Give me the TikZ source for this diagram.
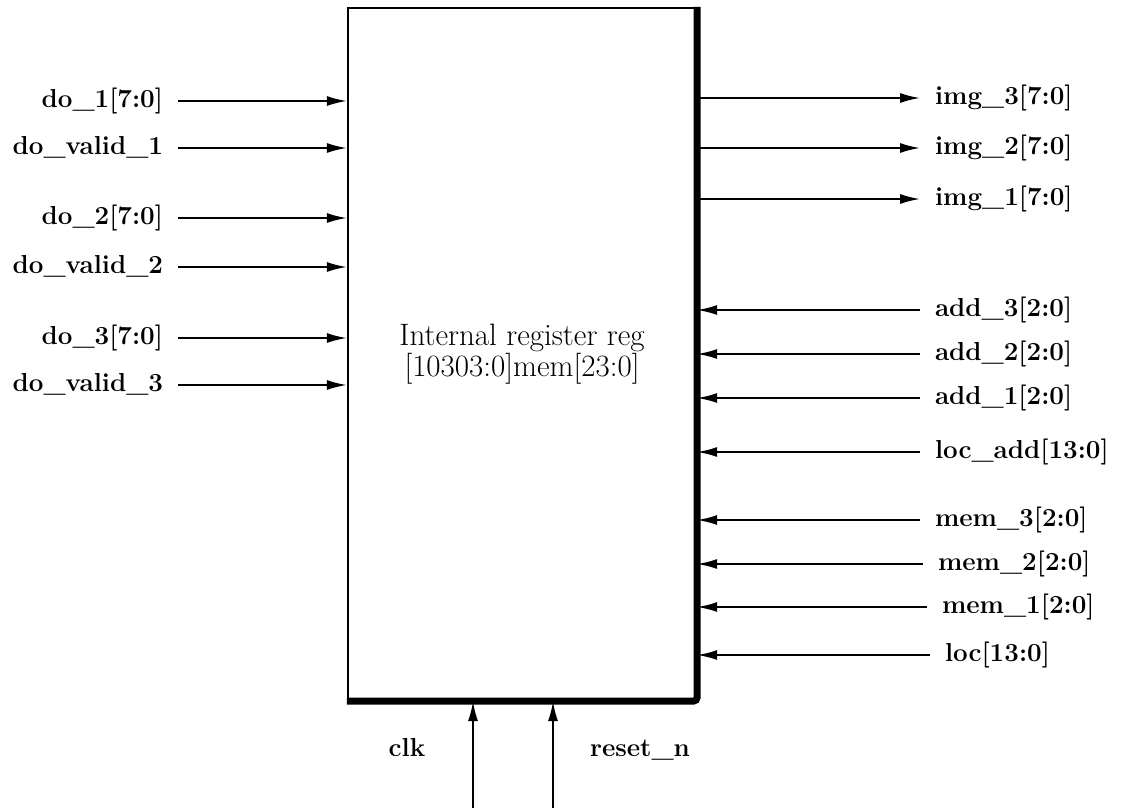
\documentclass[tikz,border=0pt]{standalone}
\usetikzlibrary{arrows.meta}
\tikzset{
  sig/.style={line width=0.9pt,-{Latex[length=10pt,width=5pt]}},
  lbl/.style={font=\fontsize{13}{15}\selectfont\bfseries,inner sep=1pt,outer sep=6.5pt,text height=9pt,text depth=3pt},
  regbox/.style={draw,line width=1.2pt,minimum width=174pt,minimum height=346pt,align=center,font=\fontsize{15.5}{13}\selectfont}
}
\begin{document}
\begin{tikzpicture}[x=0.5pt,y=-0.5pt]
\useasboundingbox (0,0) rectangle (1138,809);
\node[regbox] (reg) at (522,354) {Internal register reg\\{}[10303:0]mem[23:0]};
\draw[line width=3.5pt,rounded corners=2pt] (reg.north east) -- (reg.south east) -- (reg.south west);
\node[lbl,anchor=east] (do1) at (178,101) {do\_1[7:0]};\draw[sig] (do1.east) -- (do1 -| reg.west);
\node[lbl,anchor=east] (dv1) at (178,148) {do\_valid\_1};\draw[sig] (dv1.east) -- (dv1 -| reg.west);
\node[lbl,anchor=east] (do2) at (178,218) {do\_2[7:0]};\draw[sig] (do2.east) -- (do2 -| reg.west);
\node[lbl,anchor=east] (dv2) at (178,267) {do\_valid\_2};\draw[sig] (dv2.east) -- (dv2 -| reg.west);
\node[lbl,anchor=east] (do3) at (178,338) {do\_3[7:0]};\draw[sig] (do3.east) -- (do3 -| reg.west);
\node[lbl,anchor=east] (dv3) at (178,385) {do\_valid\_3};\draw[sig] (dv3.east) -- (dv3 -| reg.west);
\node[lbl,anchor=west] (img3) at (920,98) {img\_3[7:0]};\draw[sig] (img3 -| reg.east) -- (img3.west);
\node[lbl,anchor=west] (img2) at (920,148) {img\_2[7:0]};\draw[sig] (img2 -| reg.east) -- (img2.west);
\node[lbl,anchor=west] (img1) at (920,199) {img\_1[7:0]};\draw[sig] (img1 -| reg.east) -- (img1.west);
\node[lbl,anchor=west] (add3) at (920,310) {add\_3[2:0]};\draw[sig] (add3.west) -- (add3 -| reg.east);
\node[lbl,anchor=west] (add2) at (920,354) {add\_2[2:0]};\draw[sig] (add2.west) -- (add2 -| reg.east);
\node[lbl,anchor=west] (add1) at (920,398) {add\_1[2:0]};\draw[sig] (add1.west) -- (add1 -| reg.east);
\node[lbl,anchor=west] (locadd) at (920,452) {loc\_add[13:0]};\draw[sig] (locadd.west) -- (locadd -| reg.east);
\node[lbl,anchor=west] (mem3) at (920,520) {mem\_3[2:0]};\draw[sig] (mem3.west) -- (mem3 -| reg.east);
\node[lbl,anchor=west] (mem2) at (923,564) {mem\_2[2:0]};\draw[sig] (mem2.west) -- (mem2 -| reg.east);
\node[lbl,anchor=west] (mem1) at (927,607) {mem\_1[2:0]};\draw[sig] (mem1.west) -- (mem1 -| reg.east);
\node[lbl,anchor=west] (loc) at (930,655) {loc[13:0]};\draw[sig] (loc.west) -- (loc -| reg.east);
\coordinate (clkin) at (473,808);\draw[sig] (clkin) -- (clkin |- reg.south);
\coordinate (rstin) at (553,808);\draw[sig] (rstin) -- (rstin |- reg.south);
\node[lbl] (clk) at (407,750) {clk};
\node[lbl] (rst) at (640,750) {reset\_n};
\end{tikzpicture}
\end{document}
